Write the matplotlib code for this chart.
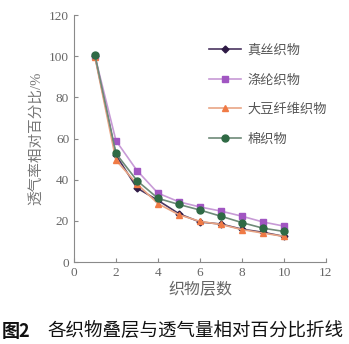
import matplotlib
matplotlib.use("Agg")
import matplotlib.pyplot as plt

plt.rcParams['font.family'] = ['Liberation Serif', 'Noto Sans CJK SC']

layers = [1, 2, 3, 4, 5, 6, 7, 8, 9, 10]
silk = [100, 52, 36, 30, 23.5, 19.5, 18.5, 16, 14.5, 12.5]
polyester = [100, 59, 44.5, 33.5, 29.3, 26.8, 24.8, 22.3, 19.5, 17.5]
soybean = [99.5, 49.5, 38, 28.4, 23, 19.8, 18.3, 15.8, 14.1, 12.5]
cotton = [100.5, 52.8, 39.6, 31, 28, 25.3, 22.3, 19.2, 16.5, 14.9]
names = ["真丝织物", "涤纶织物", "大豆纤维织物", "棉织物"]

fig = plt.figure(figsize=(3.49, 3.44), dpi=100)
ax = fig.add_axes([0.212, 0.238, 0.722, 0.718])

ax.plot(layers, silk, color="#4a3560", marker="D", markersize=3.5, linewidth=1.2,
        markerfacecolor="#2e1a45", markeredgecolor="#2e1a45", label=names[0])
ax.plot(layers, polyester, color="#c79ad6", marker="s", markersize=5, linewidth=1.2,
        markerfacecolor="#a156c2", markeredgecolor="#a156c2", label=names[1])
ax.plot(layers, soybean, color="#e9a585", marker="^", markersize=5, linewidth=1.2,
        markerfacecolor="#f07a45", markeredgecolor="#f07a45", label=names[2])
ax.plot(layers, cotton, color="#6e8a78", marker="o", markersize=5, linewidth=1.2,
        markerfacecolor="#2f6a45", markeredgecolor="#2f6a45", label=names[3])

ax.set_xlim(0, 12)
ax.set_ylim(0, 120)
ax.set_xticks(range(0, 13, 2))
ax.set_yticks(range(0, 121, 20))
for s in ["top", "right"]:
    ax.spines[s].set_visible(False)
for s in ["left", "bottom"]:
    ax.spines[s].set_color("#8a8a8a")
ax.tick_params(direction="in", colors="#8a8a8a", labelcolor="#666666", labelsize=9.5, length=3)

ax.set_xlabel("织物层数", color="#666666", fontsize=11.5, labelpad=2)
ax.set_ylabel("透气率相对百分比/%", color="#777777", fontsize=10.5, labelpad=4)

ax.legend(loc="upper right", bbox_to_anchor=(1.05, 0.93), frameon=False,
          fontsize=9.5, labelspacing=1.3, handlelength=2.4, handletextpad=0.5,
          labelcolor="#555555")

fig.text(0.005, 0.02, "图2", fontsize=13, fontweight="bold", color="#111111",
         family=['Noto Sans CJK SC'])
fig.text(0.135, 0.02, "各织物叠层与透气量相对百分比折线", fontsize=13.3,
         color="#111111", family=['Noto Sans CJK SC'])

fig.savefig("out.png", dpi=100)
